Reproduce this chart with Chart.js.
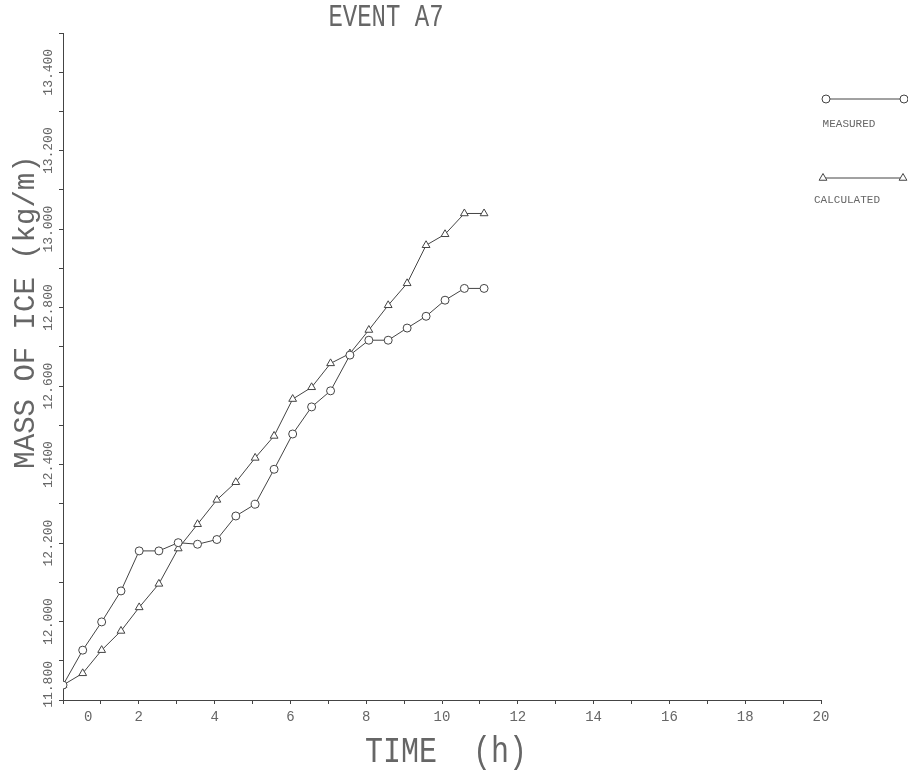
<!DOCTYPE html>
<html>
<head>
<meta charset="utf-8">
<title>Event A7</title>
<script src="https://cdn.jsdelivr.net/npm/chart.js@4.4.1/dist/chart.umd.min.js"></script>
<style>
  html, body { margin: 0; padding: 0; background: #fff; }
  #wrap { width: 908px; height: 771px; }
</style>
</head>
<body>
<div id="wrap"><canvas id="chart" width="908" height="771"></canvas></div>
<script>
// Data (time in hours, mass in kg/m)
const times = [0, 0.52, 1.02, 1.53, 2.01, 2.53, 3.04, 3.55, 4.06, 4.56, 5.07, 5.57,
  6.06, 6.56, 7.06, 7.57, 8.07, 8.58, 9.08, 9.58, 10.08, 10.59, 11.11];
const measured = [11.838, 11.927, 11.999, 12.078, 12.180, 12.180, 12.201, 12.197, 12.209,
  12.269, 12.299, 12.388, 12.478, 12.547, 12.588, 12.679, 12.717, 12.717, 12.748, 12.778,
  12.819, 12.849, 12.849];
const calculated = [11.838, 11.868, 11.927, 11.976, 12.036, 12.096, 12.186, 12.248, 12.310,
  12.355, 12.417, 12.473, 12.567, 12.597, 12.658, 12.683, 12.743, 12.806, 12.862, 12.959,
  12.987, 13.040, 13.040];

const seriesNames = ['MEASURED', 'CALCULATED'];
const xTickLabels = ['0', '2', '4', '6', '8', '10', '12', '14', '16', '18', '20'];
const yTickLabels = ['11.800', '12.000', '12.200', '12.400', '12.600', '12.800', '13.000', '13.200', '13.400'];

const chartTitle = 'EVENT A7';
const xTitle = 'TIME  (h)';
const yTitle = 'MASS OF ICE (kg/m)';

// Styles
const INK = '#444';
const TEXT = '#666';
const MONO = '"Liberation Mono", "DejaVu Sans Mono", monospace';

function toPoints(ys) {
  return times.map((t, i) => ({ x: t, y: ys[i] }));
}

// Titles and the plotter-style legend
const plotterText = {
  id: 'plotterText',
  afterDraw(chart) {
    const ctx = chart.ctx;
    ctx.save();
    ctx.fillStyle = TEXT;
    ctx.textAlign = 'center';
    ctx.textBaseline = 'middle';

    ctx.save();
    ctx.translate(386, 18);
    ctx.scale(1, 1.3);
    ctx.font = '24px ' + MONO;
    ctx.fillText(chartTitle, 0, 0);
    ctx.restore();

    ctx.save();
    ctx.translate(446, 752);
    ctx.scale(1, 1.2);
    ctx.font = '30px ' + MONO;
    ctx.fillText(xTitle, 0, 0);
    ctx.restore();

    ctx.save();
    ctx.translate(26, 312);
    ctx.rotate(-Math.PI / 2);
    ctx.font = '29px ' + MONO;
    ctx.fillText(yTitle, 0, 0);
    ctx.restore();

    // legend: marker - line - marker, name underneath
    const rows = [
      { y: 99, x0: 826, x1: 904, ty: 124 },
      { y: 178, x0: 823, x1: 903, ty: 200 }
    ];
    chart.data.datasets.forEach((ds, i) => {
      const r = rows[i];
      ctx.strokeStyle = ds.borderColor;
      ctx.lineWidth = 1;
      ctx.beginPath();
      ctx.moveTo(r.x0, r.y);
      ctx.lineTo(r.x1, r.y);
      ctx.stroke();
      const opts = { pointStyle: ds.pointStyle, radius: ds.pointRadius, rotation: 0, borderWidth: 1 };
      ctx.fillStyle = '#fff';
      ctx.strokeStyle = ds.pointBorderColor;
      Chart.helpers.drawPoint(ctx, opts, r.x0, r.y);
      Chart.helpers.drawPoint(ctx, opts, r.x1, r.y);
      ctx.fillStyle = TEXT;
      ctx.font = '11px ' + MONO;
      ctx.fillText(ds.label, (r.x0 + r.x1) / 2 - 16, r.ty);
    });
    ctx.restore();
  }
};

new Chart(document.getElementById('chart'), {
  type: 'line',
  data: {
    datasets: [
      {
        label: seriesNames[0],
        data: toPoints(measured),
        borderColor: INK,
        borderWidth: 1,
        pointStyle: 'circle',
        pointRadius: 4,
        pointBorderColor: INK,
        pointBackgroundColor: '#fff',
        pointBorderWidth: 1,
        tension: 0
      },
      {
        label: seriesNames[1],
        data: toPoints(calculated),
        borderColor: INK,
        borderWidth: 1,
        pointStyle: 'triangle',
        pointRadius: 4.5,
        pointBorderColor: INK,
        pointBackgroundColor: '#fff',
        pointBorderWidth: 1,
        tension: 0
      }
    ]
  },
  options: {
    responsive: false,
    animation: false,
    devicePixelRatio: 1,
    layout: { padding: { left: 0, right: 87, top: 33, bottom: 0 } },
    plugins: {
      legend: { display: false },
      title: { display: false },
      tooltip: { enabled: false }
    },
    scales: {
      x: {
        type: 'linear',
        min: 0,
        max: 20,
        border: { display: true, color: INK, width: 1 },
        grid: { display: true, drawOnChartArea: false, drawTicks: true, tickLength: 4, color: INK },
        ticks: {
          stepSize: 1,
          autoSkip: false,
          minRotation: 0,
          maxRotation: 0,
          padding: 5,
          color: TEXT,
          font: { family: MONO, size: 14 },
          callback: (value) => {
            const label = xTickLabels.find(l => Number(l) === Math.round(value));
            if (label === undefined || Math.abs(value - Math.round(value)) > 1e-6) return '';
            return label === '0' ? '      0' : label;
          }
        },
        afterFit(scale) { scale.height = 71; }
      },
      y: {
        type: 'linear',
        min: 11.8,
        max: 13.5,
        border: { display: true, color: INK, width: 1 },
        grid: { display: true, drawOnChartArea: false, drawTicks: true, tickLength: 4, color: INK },
        ticks: {
          stepSize: 0.1,
          autoSkip: false,
          minRotation: 90,
          maxRotation: 90,
          crossAlign: 'center',
          padding: -29,
          color: TEXT,
          font: { family: MONO, size: 13 },
          callback: (value) => {
            const label = yTickLabels.find(l => Math.abs(Number(l) - value) < 1e-6);
            if (label === undefined) return '';
            return label === '11.800' ? '    11.800' : label;
          }
        },
        afterFit(scale) { scale.width = 63; }
      }
    }
  },
  plugins: [plotterText]
});
</script>
</body>
</html>
